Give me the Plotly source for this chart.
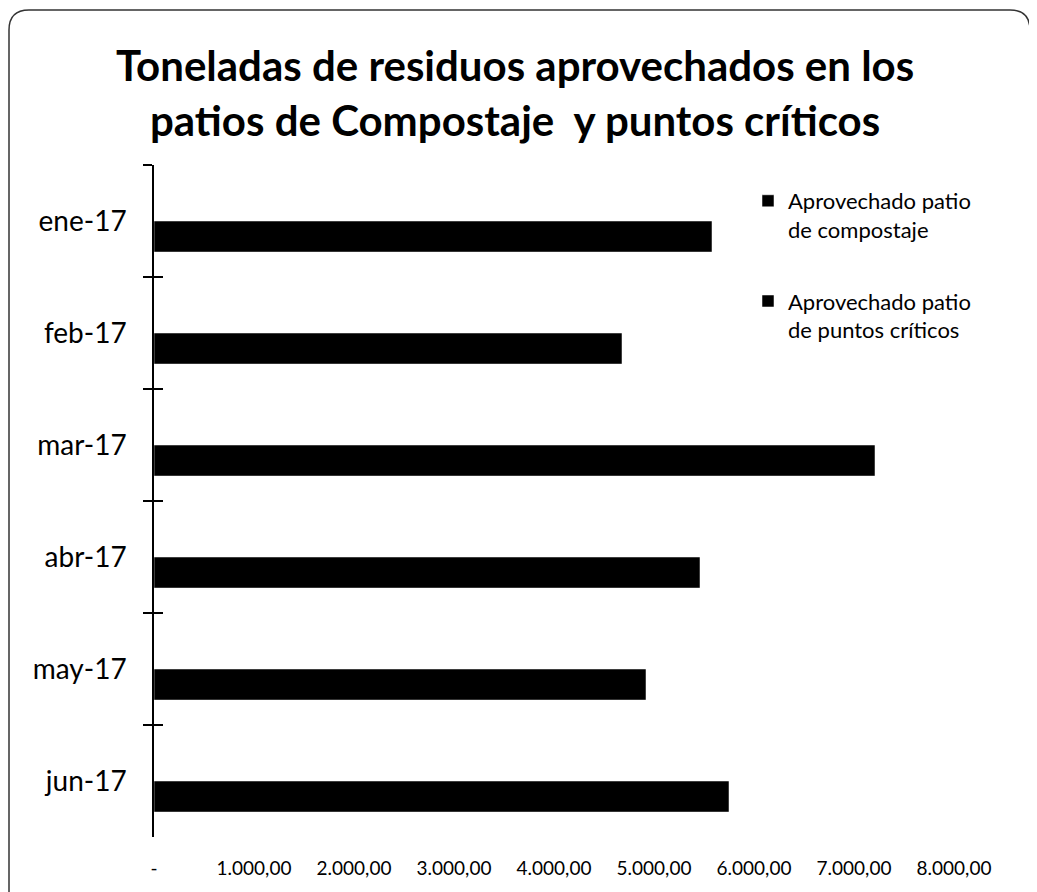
import plotly.graph_objects as go

months = ["ene-17", "feb-17", "mar-17", "abr-17", "may-17", "jun-17"]
compostaje = [5580, 4680, 7210, 5460, 4920, 5750]
puntos_criticos = [0, 0, 0, 0, 0, 0]
x_ticks = [0, 1000, 2000, 3000, 4000, 5000, 6000, 7000, 8000]
x_tick_labels = ["-", "1.000,00", "2.000,00", "3.000,00", "4.000,00",
                 "5.000,00", "6.000,00", "7.000,00", "8.000,00"]

FONT = "Lato"

fig = go.Figure()
fig.add_trace(go.Bar(
    y=months, x=puntos_criticos, orientation="h",
    name="Aprovechado patio<br>de puntos críticos",
    marker=dict(color="black"), legendgroup="b", legendrank=2,
))
fig.add_trace(go.Bar(
    y=months, x=compostaje, orientation="h",
    name="Aprovechado patio<br>de compostaje",
    marker=dict(color="black"), legendgroup="a", legendrank=1,
))
# invisible helper so the overlay axis carries the same categories (inside ticks)
fig.add_trace(go.Scatter(
    y=months, x=compostaje, yaxis="y2", mode="markers",
    marker=dict(opacity=0), showlegend=False, hoverinfo="skip",
))

fig.update_layout(
    width=1037, height=892,
    template="plotly_white",
    paper_bgcolor="white", plot_bgcolor="white",
    margin=dict(l=146, r=91, t=157, b=63),
    font=dict(family=FONT, color="black"),
    title=dict(
        text="Toneladas de residuos aprovechados en los<br>patios de Compostaje  y puntos críticos",
        x=0.489, xref="container", xanchor="center",
        y=0.918, yref="container", yanchor="top",
        font=dict(family=FONT, size=42, color="black", weight="bold"),
    ),
    barmode="group", bargap=0.445, bargroupgap=0,
    showlegend=True,
    legend=dict(
        x=0.7425, y=0.9777, xanchor="left", yanchor="top",
        traceorder="grouped", tracegroupgap=40, valign="top",
        font=dict(family=FONT, size=22, color="black"),
        bgcolor="rgba(0,0,0,0)", itemwidth=30,
    ),
    xaxis=dict(
        range=[0, 8000], tickvals=x_ticks, ticktext=x_tick_labels,
        showgrid=False, zeroline=False, showline=False, ticks="",
        ticklabelstandoff=18,
        tickfont=dict(family=FONT, size=19, color="black"),
    ),
    yaxis=dict(
        categoryorder="array", categoryarray=months, autorange="reversed",
        showgrid=False, zeroline=False, showline=True,
        linecolor="black", linewidth=1.5,
        ticks="outside", tickson="boundaries", ticklen=9,
        tickcolor="black", tickwidth=1.5,
        ticklabelstandoff=20,
        tickfont=dict(family=FONT, size=28, color="black"),
    ),
    yaxis2=dict(
        overlaying="y", side="left", matches="y",
        categoryorder="array", categoryarray=months,
        showgrid=False, zeroline=False, showline=False,
        showticklabels=False,
        ticks="inside", tickson="boundaries", ticklen=9,
        tickcolor="black", tickwidth=1.5,
    ),
)

# chart-area frame with rounded top corners, as in the original spreadsheet chart
fig.add_shape(
    type="path", xref="paper", yref="paper",
    path=("M -0.18125,-0.12 L -0.18125,1.2009 Q -0.18125,1.2307 -0.15625,1.2307 "
          "L 1.07,1.2307 Q 1.095,1.2307 1.095,1.2009 L 1.095,-0.12"),
    line=dict(color="#333333", width=1.5),
)

fig.write_html("out.html")
